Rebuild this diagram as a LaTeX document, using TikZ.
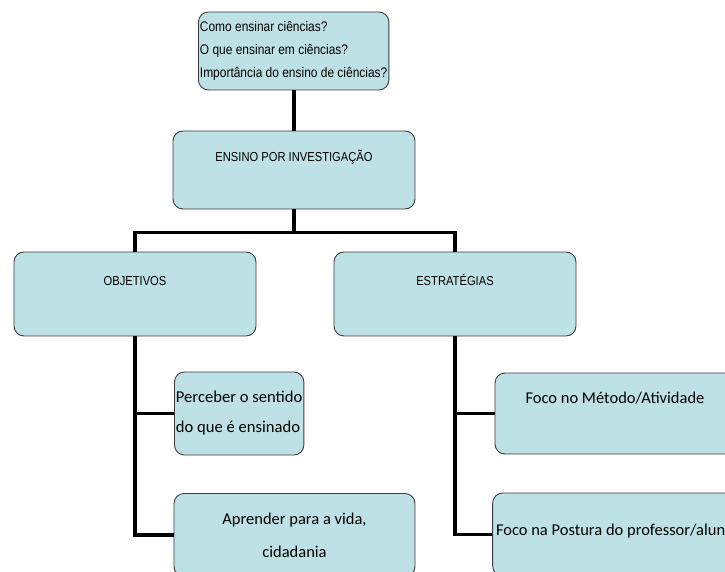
\documentclass[tikz,border=0pt]{standalone}
\usepackage{fontspec}
\setmainfont{Carlito}
\newfontfamily\headfont[FakeStretch=0.86]{Liberation Sans}
\usepackage{xcolor}
\usetikzlibrary{positioning}
\definecolor{boxfill}{HTML}{BDE1E4}
\definecolor{boxline}{HTML}{3C3C3C}
\tikzset{
  box/.style={draw=boxline, line width=0.9pt, fill=boxfill, rounded corners=10pt, inner ysep=0pt},
  headbox/.style={box, font=\headfont\fontsize{13}{23}\selectfont, minimum width=242pt},
  textbox/.style={box, font=\fontsize{16.5}{30}\selectfont},
  conn/.style={line width=3.5pt, black}
}
\begin{document}
\begin{tikzpicture}[x=1pt,y=-1pt]
    \useasboundingbox (0,0) rectangle (725,572);
    \clip (0,0) rectangle (725,572);
    \node[box, font=\headfont\fontsize{13.9}{23}\selectfont, align=left, minimum height=78pt, inner xsep=1.5pt, anchor=west] (perguntas) at (198,51) {Como ensinar ciências?\\O que ensinar em ciências?\\Importância do ensino de ciências?};
    \node[headbox, text height=31pt, text depth=47pt] (ensino) at (294,170) {ENSINO POR INVESTIGAÇÃO};
    \node[headbox, text height=33pt, text depth=51pt] (objetivos) at (135,294) {OBJETIVOS};
    \node[headbox, text height=33pt, text depth=51pt] (estrategias) at (455,294) {ESTRATÉGIAS};
    \node[textbox, align=left, minimum height=83pt, inner xsep=1.5pt, anchor=west, font=\fontsize{16.6}{30}\selectfont] (perceber) at (174,413.5) {Perceber o sentido\\do que é ensinado};
    \node[textbox, align=center, minimum width=241pt, minimum height=83pt, font=\fontsize{16.5}{33}\selectfont] (aprender) at (294.5,535) {Aprender para a vida,\\cidadania};
    \node[textbox, minimum width=240pt, text height=30pt, text depth=51pt] (metodo) at (615,413.5) {Foco no Método/Atividade};
    \node[textbox, minimum width=240pt, text height=42pt, text depth=41pt] (postura) at (615,534.5) {Foco na Postura do professor/aluno};
    \draw[conn] (perguntas.south -| ensino.north) -- (ensino.north);
    \draw[conn] (ensino.south) -- ++(0,23) coordinate (bus);
    \draw[conn] (objetivos.north) |- (bus) -| (estrategias.north);
    \draw[conn] (objetivos.south) |- (aprender.west);
    \draw[conn] (perceber.west) -- (perceber.west -| objetivos.south);
    \draw[conn] (estrategias.south) |- (postura.west);
    \draw[conn] (metodo.west) -- (metodo.west -| estrategias.south);
\end{tikzpicture}
\end{document}
